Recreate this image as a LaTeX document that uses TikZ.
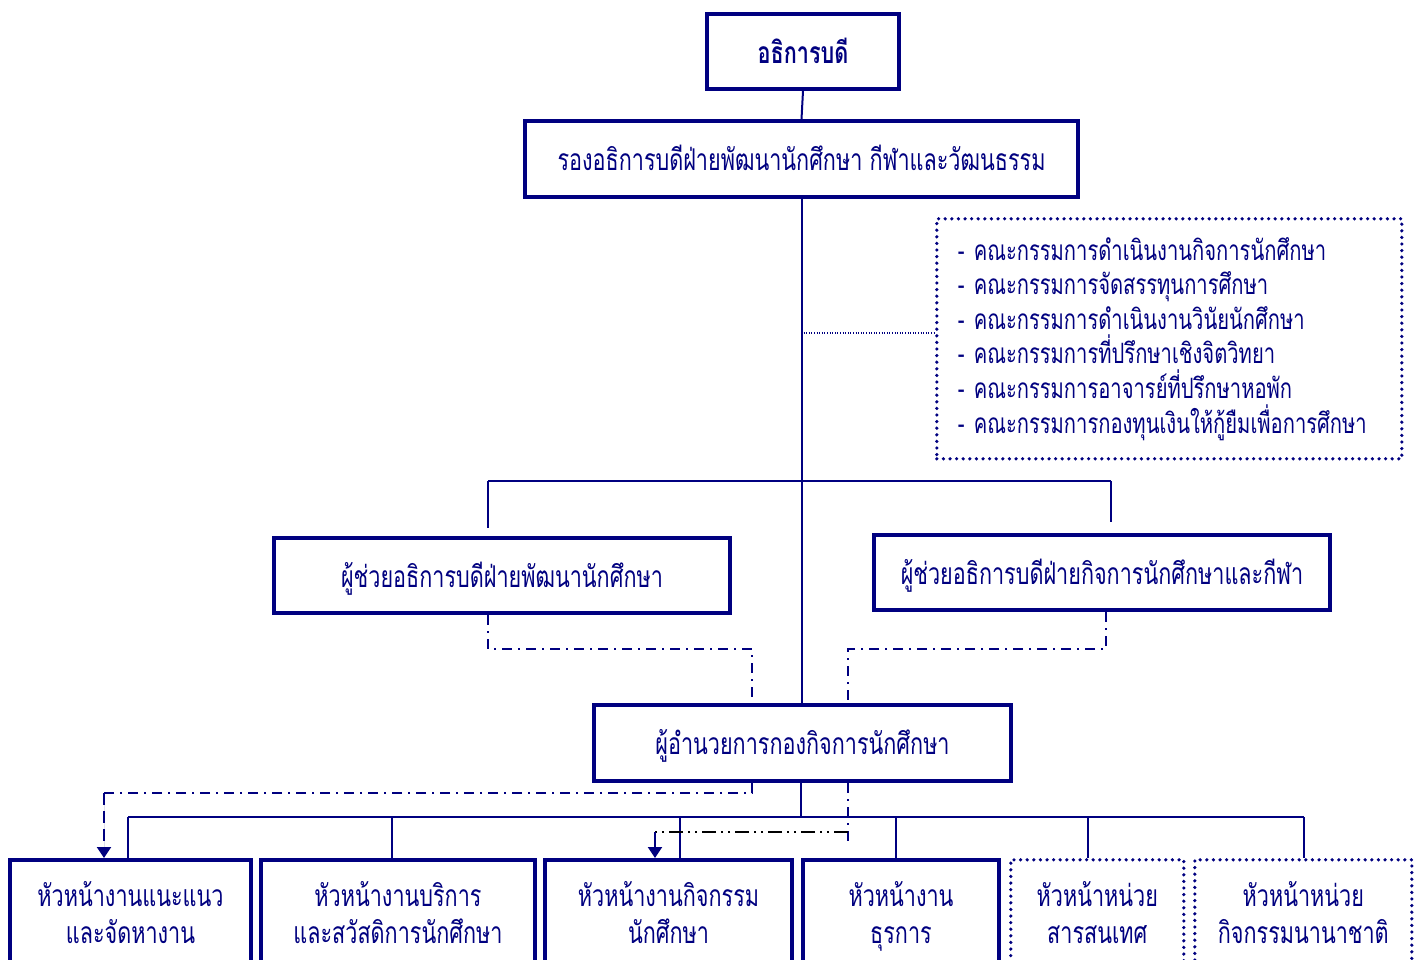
\documentclass[tikz,border=0pt]{standalone}
\usepackage{fontspec}
\newfontfamily\thai[Script=Thai,FakeStretch=0.72]{Loma}
\usetikzlibrary{arrows.meta}
\definecolor{nv}{RGB}{0,0,128}
\newcommand\tst{\vphantom{ปิ้ญู}}
\begin{document}
\begin{tikzpicture}[x=1pt,y=-1pt,
  font=\thai\fontsize{30}{38}\selectfont,
  box/.style={draw=nv, line width=4pt, fill=white, inner sep=0pt, align=center, text=nv, anchor=north west},
  dotbox/.style={draw=nv, line width=3.6pt, dash pattern=on 0pt off 6.6pt, line cap=round, fill=white, inner sep=0pt, align=center, text=nv, anchor=north west},
  conn/.style={draw=nv, line width=2pt},
  dashdot/.style={draw=nv, line width=2pt, dash pattern=on 10pt off 6pt on 2pt off 6pt},
  dashdotdot/.style={draw=black, line width=2pt, dash pattern=on 14pt off 5pt on 2pt off 5pt on 2pt off 5pt},
  longdash/.style={draw=nv, line width=2pt, dash pattern=on 12pt off 6pt},
  finedot/.style={draw=nv, line width=1.3pt, dash pattern=on 1pt off 1.6pt},
  tip/.style={-{Triangle[width=14pt,length=11pt]}, fill=nv}
]
\useasboundingbox (0,0) rectangle (1421,959);
\clip (0,0) rectangle (1421,959);
\fill[white] (0,0) rectangle (1421,959);

\coordinate (h1) at (488,481);
\coordinate (h2) at (1111,481);
\coordinate (a1) at (488,649);
\coordinate (a2) at (752,649);
\coordinate (e1) at (1106,649);
\coordinate (e2) at (848,649);
\coordinate (c1) at (752,793);
\coordinate (c2) at (104,793);
\coordinate (d1) at (848,832);
\coordinate (d2) at (655,832);
\coordinate (d3) at (848,843);
\coordinate (t) at (801,817);
\coordinate (tl) at (128,817);
\coordinate (tr) at (1304,817);
\coordinate (v2) at (392,817);
\coordinate (v3) at (680,817);
\coordinate (v4) at (896,817);
\coordinate (v5) at (1088,817);
\coordinate (m) at (801,333);

% nodes
\node[box, minimum width=192, minimum height=75] (n1) at (705,12) {\bfseries\tst อธิการบดี};
\node[box, minimum width=553, minimum height=76] (n2) at (523,119) {\tst รองอธิการบดีฝ่ายพัฒนานักศึกษา กีฬาและวัฒนธรรม};
\node[dotbox, minimum width=465, minimum height=240, align=left, text width=423, inner xsep=21, font=\thai\fontsize{28}{34.6}\selectfont] (list) at (935,217) {%
- คณะกรรมการดำเนินงานกิจการนักศึกษา\\
- คณะกรรมการจัดสรรทุนการศึกษา\\
- คณะกรรมการดำเนินงานวินัยนักศึกษา\\
- คณะกรรมการที่ปรึกษาเชิงจิตวิทยา\\
- คณะกรรมการอาจารย์ที่ปรึกษาหอพัก\\
- คณะกรรมการกองทุนเงินให้กู้ยืมเพื่อการศึกษา};
\node[box, minimum width=456, minimum height=75] (n3) at (272,536) {\tst ผู้ช่วยอธิการบดีฝ่ายพัฒนานักศึกษา};
\node[box, minimum width=456, minimum height=75] (n4) at (872,533) {\tst ผู้ช่วยอธิการบดีฝ่ายกิจการนักศึกษาและกีฬา};
\node[box, minimum width=417, minimum height=76] (n5) at (592,703) {\tst ผู้อำนวยการกองกิจการนักศึกษา};

\node[box, minimum width=241, minimum height=106] (b1) at (8,858) {\tst หัวหน้างานแนะแนว\\[-4pt]\tst และจัดหางาน};
\node[box, minimum width=274, minimum height=106] (b2) at (259,858) {\tst หัวหน้างานบริการ\\[-4pt]\tst และสวัสดิการนักศึกษา};
\node[box, minimum width=247, minimum height=106] (b3) at (543,858) {\tst หัวหน้างานกิจกรรม\\[-4pt]\tst นักศึกษา};
\node[box, minimum width=196, minimum height=106] (b4) at (801,858) {\tst หัวหน้างาน\\[-4pt]\tst ธุรการ};
\node[dotbox, minimum width=173, minimum height=106] (b5) at (1009,858) {\tst หัวหน้าหน่วย\\[-4pt]\tst สารสนเทศ};
\node[dotbox, minimum width=217, minimum height=106] (b6) at (1193,858) {\tst หัวหน้าหน่วย\\[-4pt]\tst กิจกรรมนานาชาติ};

% solid tree
\draw[conn] (n1.south) -- (n2.north);
\draw[conn] (n2.south) -- (n2.south |- n5.north);
\draw[finedot] (m) -- (m -| list.west);
\draw[conn] (h1) -- (h2);
\draw[conn, shorten >=8pt] (h1) -- (h1 |- n3.north);
\draw[conn, shorten >=11pt] (h2) -- (h2 |- n4.north);
\draw[conn] (n5.south -| t) -- (t);
\draw[conn] (tl) -- (tr);
\draw[conn] (tl) -- (tl |- b1.north);
\draw[conn] (v2) -- (v2 |- b2.north);
\draw[conn] (v3) -- (v3 |- b3.north);
\draw[conn] (v4) -- (v4 |- b4.north);
\draw[conn] (v5) -- (v5 |- b5.north);
\draw[conn] (tr) -- (tr |- b6.north);

% dash-dot links
\draw[dashdot] (n3.south -| a1) -- (a1) -- (a2) -- (a2 |- n5.north);
\draw[dashdot] (n4.south -| e1) -- (e1) -- (e2) -- (e2 |- n5.north);
\draw[dashdot] (n5.south -| c1) -- (c1) -- (c2);
\draw[longdash, tip] (c2) -- (c2 |- b1.north);
\draw[dashdot] (n5.south -| d1) -- (d3);
\draw[dashdotdot] (d1) -- (d2);
\draw[conn, tip] (d2) -- (d2 |- b3.north);
\end{tikzpicture}
\end{document}
